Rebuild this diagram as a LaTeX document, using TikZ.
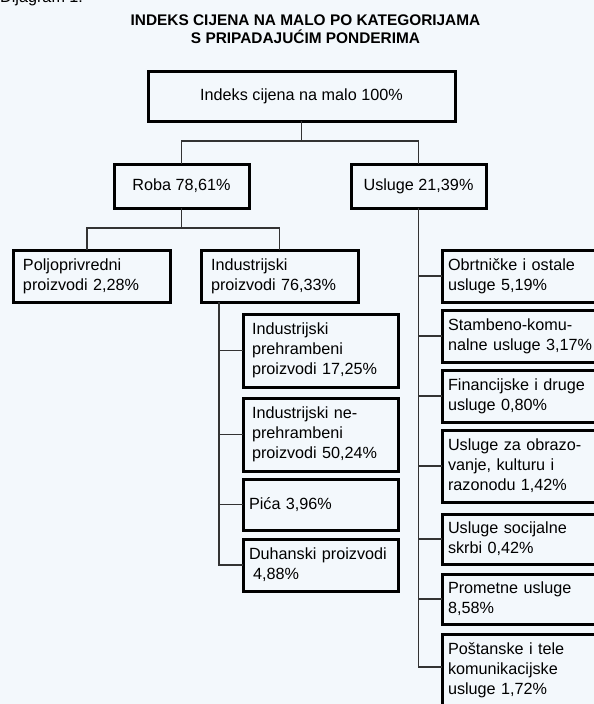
\documentclass[tikz,border=0pt]{standalone}
\usepackage{fontspec}
\setmainfont{Liberation Sans}
\definecolor{bgcol}{HTML}{F3F8FC}
\definecolor{conncol}{HTML}{333333}
\begin{document}
\begin{tikzpicture}[x=1pt,y=-1pt,
  box/.style={draw=black, line width=3pt, outer sep=0pt, inner ysep=0pt, anchor=north west, font=\fontsize{16.2}{20}\selectfont},
  cbox/.style={box, align=center},
  lbox/.style={box, align=left},
  rbox/.style={lbox, minimum width=178pt, inner xsep=6pt, text width=166pt},
  conn/.style={draw=conncol, line width=1.4pt},
  ttl/.style={font=\fontsize{15.4}{18}\selectfont\bfseries, anchor=base, inner sep=0pt}
]
\useasboundingbox (0,0) rectangle (594,704);
\fill[bgcol] (0,0) rectangle (594,704);
\clip (0,0) rectangle (594,704);

\node[anchor=base west, inner sep=0pt, font=\fontsize{16.2}{20}\selectfont] (dij) at (0,2.5) {Dijagram 1.};
\node[ttl] (t1) at (305.5,25) {INDEKS CIJENA NA MALO PO KATEGORIJAMA};
\node[ttl] (t2) at (305.5,43) {S PRIPADAJUĆIM PONDERIMA};

\node[cbox, minimum width=307pt, minimum height=50pt] (top) at (148,71) {Indeks cijena na malo 100\%};
\node[cbox, minimum width=135pt, minimum height=44pt] (roba) at (114,164) {Roba 78,61\%};
\node[cbox, minimum width=135pt, minimum height=44pt] (usl) at (351,164) {Usluge 21,39\%};

\node[lbox, minimum width=157pt, minimum height=52pt, inner xsep=10pt, text width=137pt] (polj) at (13,250) {Poljoprivredni\\proizvodi 2,28\%};
\node[lbox, minimum width=157pt, minimum height=52pt, inner xsep=10pt, text width=137pt] (ind) at (201,250) {Industrijski\\proizvodi 76,33\%};

\node[lbox, minimum width=155pt, minimum height=73pt, inner xsep=9pt, text width=137pt] (s1) at (243,314) {Industrijski\\prehrambeni\\proizvodi 17,25\%};
\node[lbox, minimum width=155pt, minimum height=73pt, inner xsep=9pt, text width=137pt] (s2) at (243,398) {Industrijski ne-\\prehrambeni\\proizvodi 50,24\%};
\node[lbox, minimum width=155pt, minimum height=51pt, inner xsep=6pt, text width=143pt] (s3) at (243,479) {Pića 3,96\%};
\node[lbox, minimum width=155pt, minimum height=52pt, inner xsep=6pt, text width=143pt] (s4) at (243,539) {Duhanski proizvodi\\\hspace*{4pt}4,88\%};

\node[rbox, minimum height=52pt] (r1) at (442,250) {Obrtničke i ostale\\usluge 5,19\%};
\node[rbox, minimum height=52pt] (r2) at (442,310) {Stambeno-komu-\\nalne usluge 3,17\%};
\node[rbox, minimum height=52pt] (r3) at (442,370) {Financijske i druge\\usluge 0,80\%};
\node[rbox, minimum height=72pt] (r4) at (442,430) {Usluge za obrazo-\\vanje, kulturu i\\razonodu 1,42\%};
\node[rbox, minimum height=50pt] (r5) at (442,514) {Usluge socijalne\\skrbi 0,42\%};
\node[rbox, minimum height=50pt] (r6) at (442,574) {Prometne usluge\\8,58\%};
\node[rbox, inner ysep=9pt] (r7) at (442,634) {Poštanske i tele\\komunikacijske\\usluge 1,72\%\rule[-12pt]{0pt}{1pt}};

\path (top.south) ++(0,20) coordinate (j0);
\draw[conn] (top.south) -- (j0) -| (roba.north);
\draw[conn] (j0) -| (usl.north);
\path (roba.south) ++(0,20) coordinate (j1);
\draw[conn] (roba.south) -- (j1) -| ([xshift=-4.5pt]polj.north);
\draw[conn] (j1) -| (ind.north);
\path (ind.south west) ++(18,0) coordinate (k0);
\draw[conn] (k0) |- (s4.west);
\foreach \n in {s1,s2,s3} \draw[conn] (k0 |- \n.west) -- (\n.west);
\draw[conn] (usl.south) |- ([yshift=-33pt]r7.north west);
\foreach \n in {r1,r2,r3,r4,r5,r6} \draw[conn] (usl.south |- \n.west) -- (\n.west);
\end{tikzpicture}
\end{document}
